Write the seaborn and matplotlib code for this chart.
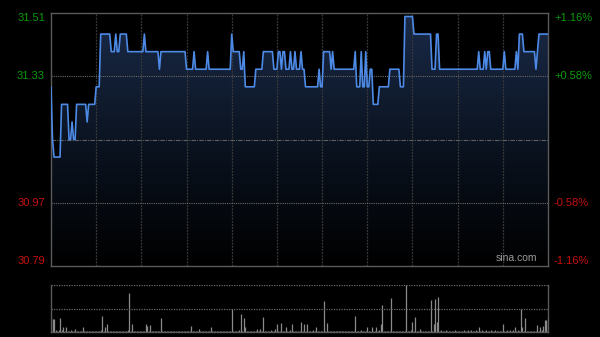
import numpy as np
import pandas as pd
import matplotlib
matplotlib.use("Agg")
import matplotlib.pyplot as plt
import seaborn as sns
from matplotlib.patches import Polygon

# ---------------- data ----------------
prev_close = 31.15
price_ticks = [31.51, 31.33, 30.97, 30.79]
price_tick_labels = ["31.51", "31.33", "30.97", "30.79"]
pct_tick_labels = ["+1.16%", "+0.58%", "-0.58%", "-1.16%"]

price = [
    31.30, 31.15, 31.10, 31.10, 31.10, 31.10, 31.10, 31.25, 31.25, 31.25,
    31.25, 31.25, 31.15, 31.15, 31.20, 31.15, 31.15, 31.25, 31.25, 31.25,
    31.25, 31.25, 31.25, 31.25, 31.20, 31.25, 31.25, 31.25, 31.25, 31.25,
    31.30, 31.30, 31.30, 31.45, 31.45, 31.45, 31.45, 31.45, 31.45, 31.45,
    31.40, 31.40, 31.40, 31.45, 31.40, 31.40, 31.45, 31.45, 31.45, 31.45,
    31.45, 31.40, 31.40, 31.40, 31.40, 31.40, 31.40, 31.40, 31.40, 31.40,
    31.40, 31.40, 31.45, 31.40, 31.40, 31.40, 31.40, 31.40, 31.40, 31.40,
    31.40, 31.40, 31.35, 31.40, 31.40, 31.40, 31.40, 31.40, 31.40, 31.40,
    31.40, 31.40, 31.40, 31.40, 31.40, 31.40, 31.40, 31.40, 31.40, 31.40,
    31.35, 31.35, 31.35, 31.35, 31.35, 31.40, 31.35, 31.35, 31.35, 31.35,
    31.35, 31.35, 31.35, 31.35, 31.40, 31.35, 31.35, 31.35, 31.35, 31.35,
    31.35, 31.35, 31.35, 31.35, 31.35, 31.35, 31.35, 31.35, 31.35, 31.35,
    31.45, 31.40, 31.40, 31.40, 31.40, 31.40, 31.35, 31.35, 31.40, 31.30,
    31.30, 31.30, 31.30, 31.30, 31.30, 31.30, 31.35, 31.35, 31.35, 31.35,
    31.35, 31.40, 31.40, 31.40, 31.40, 31.40, 31.40, 31.40, 31.35, 31.35,
    31.35, 31.40, 31.40, 31.35, 31.40, 31.40, 31.35, 31.35, 31.35, 31.40,
    31.35, 31.35, 31.40, 31.35, 31.35, 31.35, 31.40, 31.35, 31.35, 31.30,
    31.30, 31.30, 31.30, 31.30, 31.30, 31.30, 31.30, 31.30, 31.35, 31.30,
    31.30, 31.40, 31.40, 31.40, 31.40, 31.40, 31.35, 31.40, 31.35, 31.35,
    31.35, 31.35, 31.35, 31.35, 31.35, 31.35, 31.35, 31.35, 31.35, 31.35,
    31.35, 31.35, 31.40, 31.30, 31.30, 31.30, 31.40, 31.30, 31.30, 31.40,
    31.30, 31.30, 31.35, 31.35, 31.25, 31.25, 31.25, 31.25, 31.30, 31.30,
    31.30, 31.30, 31.30, 31.30, 31.30, 31.35, 31.35, 31.35, 31.35, 31.35,
    31.35, 31.35, 31.30, 31.30, 31.30, 31.50, 31.50, 31.50, 31.50, 31.50,
    31.50, 31.45, 31.45, 31.45, 31.45, 31.45, 31.45, 31.45, 31.45, 31.45,
    31.45, 31.45, 31.45, 31.35, 31.35, 31.35, 31.45, 31.45, 31.35, 31.35,
    31.35, 31.35, 31.35, 31.35, 31.35, 31.35, 31.35, 31.35, 31.35, 31.35,
    31.35, 31.35, 31.35, 31.35, 31.35, 31.35, 31.35, 31.35, 31.35, 31.35,
    31.35, 31.35, 31.35, 31.35, 31.40, 31.35, 31.35, 31.35, 31.40, 31.35,
    31.40, 31.40, 31.35, 31.35, 31.35, 31.35, 31.35, 31.35, 31.35, 31.35,
    31.35, 31.40, 31.35, 31.35, 31.35, 31.35, 31.35, 31.35, 31.35, 31.40,
    31.35, 31.45, 31.45, 31.45, 31.40, 31.40, 31.40, 31.40, 31.40, 31.40,
    31.40, 31.40, 31.35, 31.40, 31.45, 31.45, 31.45, 31.45, 31.45, 31.45,
    31.45,
]

volume = [
    29, 27, 27, 5, 3, 4, 29, 4, 10, 3, 11, 3, 2, 4, 3, 2, 7, 3, 2, 3,
    2, 11, 3, 2, 3, 2, 2, 3, 2, 3, 2, 3, 2, 4, 34, 3, 11, 16, 3, 2,
    2, 3, 2, 2, 3, 2, 2, 3, 2, 2, 3, 4, 84, 3, 17, 3, 2, 2, 3, 2,
    2, 3, 2, 17, 12, 3, 14, 3, 2, 2, 3, 2, 2, 30, 3, 2, 2, 3, 2, 2,
    3, 2, 2, 2, 3, 2, 2, 2, 3, 2, 2, 3, 2, 13, 3, 2, 2, 3, 7, 2,
    2, 3, 2, 2, 3, 2, 10, 3, 2, 2, 3, 2, 2, 3, 2, 2, 3, 2, 2, 3,
    49, 3, 2, 2, 3, 4, 38, 3, 29, 10, 3, 2, 2, 3, 2, 2, 3, 6, 2, 7,
    2, 32, 3, 2, 2, 3, 4, 2, 3, 7, 17, 3, 2, 20, 3, 2, 11, 3, 2, 4,
    17, 3, 2, 2, 3, 2, 21, 3, 16, 3, 16, 3, 2, 2, 5, 3, 11, 2, 3, 2,
    3, 66, 3, 20, 3, 2, 2, 3, 2, 2, 3, 2, 2, 3, 2, 2, 3, 2, 2, 3,
    2, 2, 34, 3, 2, 2, 4, 3, 2, 2, 10, 3, 2, 10, 3, 2, 10, 3, 5, 18,
    57, 3, 2, 2, 3, 2, 72, 3, 2, 2, 3, 2, 2, 3, 2, 2, 100, 3, 2, 4,
    21, 3, 32, 3, 2, 7, 3, 2, 2, 3, 2, 3, 68, 3, 16, 70, 21, 74, 3, 5,
    2, 3, 5, 2, 3, 2, 2, 3, 5, 2, 3, 2, 2, 3, 5, 2, 3, 4, 3, 5,
    2, 3, 4, 3, 10, 3, 5, 2, 3, 4, 3, 2, 5, 3, 2, 4, 3, 2, 3, 2,
    16, 3, 2, 4, 3, 5, 3, 4, 10, 3, 4, 3, 50, 11, 3, 30, 3, 2, 3, 2,
    3, 2, 3, 14, 3, 11, 5, 13, 26, 26, 30,
]

minutes = np.arange(len(price))
df = pd.DataFrame({"minute": minutes, "price": price, "volume": volume})

# ---------------- style ----------------
sns.set_theme(style="dark")
plt.rcParams["font.family"] = ["Liberation Sans", "DejaVu Sans"]
BG = "#000000"
GREEN = "#0a9a0a"
RED = "#c81010"
SPINE = "#5a5a5a"
GRID = "#3a3a3a"
LINE = "#4d8ae6"

fig = plt.figure(figsize=(6.0, 3.37), dpi=100, facecolor=BG)
ax = fig.add_axes([51 / 600, 1 - 266 / 337, 497 / 600, 253 / 337])
axv = fig.add_axes([51 / 600, 1 - 332 / 337, 497 / 600, 47 / 337])
for a in (ax, axv):
    a.set_facecolor(BG)
    a.grid(False)

n = len(price) - 1
ymin, ymax = 30.79, 31.51
ax.set_xlim(0, n)
ax.set_ylim(ymin, ymax)

# gradient fill under the price line
grad = np.linspace(0, 1, 256).reshape(-1, 1)
from matplotlib.colors import LinearSegmentedColormap
cmap = LinearSegmentedColormap.from_list("g", ["#000000", "#0b1422", "#1a2a48"])
im = ax.imshow(grad, extent=[0, n, ymin, ymax], origin="lower", aspect="auto",
               cmap=cmap, zorder=1)
verts = [(0, ymin)] + list(zip(minutes, price)) + [(n, ymin)]
poly = Polygon(verts, closed=True, facecolor="none", edgecolor="none")
ax.add_patch(poly)
im.set_clip_path(poly)

# grid lines
for k in range(1, 11):
    ax.axvline(k * 30, color=GRID, lw=0.9, ls=(0, (1.5, 1)), zorder=2)
for yv in (31.33, 30.97):
    ax.axhline(yv, color="#6a6a6a", lw=0.8, ls=(0, (1, 1)), zorder=2)
ax.axhline(prev_close, color="#606060", lw=0.8, ls=(0, (4, 1, 1, 1)), zorder=2)

sns.lineplot(data=df, x="minute", y="price", ax=ax, color=LINE, lw=1.2, zorder=4)

ax.set_xticks([])
ax.set_yticks([])
ax.set_xlabel("")
ax.set_ylabel("")
for s in ax.spines.values():
    s.set_color(SPINE)
    s.set_linewidth(1.0)
    s.set_visible(True)

# axis labels (left price, right percent)
for yv, lab, pl in zip(price_ticks, price_tick_labels, pct_tick_labels):
    col = GREEN if yv > prev_close else RED
    va = "top" if yv == ymax else ("bottom" if yv == ymin else "center")
    ax.text(-0.012, yv, lab, transform=ax.get_yaxis_transform(), ha="right",
            va=va, color=col, fontsize=8)
    ax.text(1.012, yv, pl, transform=ax.get_yaxis_transform(), ha="left",
            va=va, color=col, fontsize=8)

ax.text(0.978, 0.012, "sina.com", transform=ax.transAxes, ha="right", va="bottom",
        color="#9a9a9a", fontsize=7.5, zorder=5)

# volume panel
axv.set_xlim(0, n)
axv.set_ylim(0, max(volume))
axv.vlines(df["minute"], 0, df["volume"], color="#8a8a8a", lw=0.9)
axv.axhline(max(volume), color="#6a6a6a", lw=0.9, ls=(0, (1, 1)))
axv.axhline(max(volume) / 2, color="#6a6a6a", lw=0.9, ls=(0, (1, 1)))
axv.set_xticks([])
axv.set_yticks([])
for side, s in axv.spines.items():
    if side == "top":
        s.set_visible(False)
    else:
        s.set_color(SPINE)
        s.set_linewidth(1.0)
        s.set_visible(True)

fig.savefig("out.png", dpi=100, facecolor=BG)
